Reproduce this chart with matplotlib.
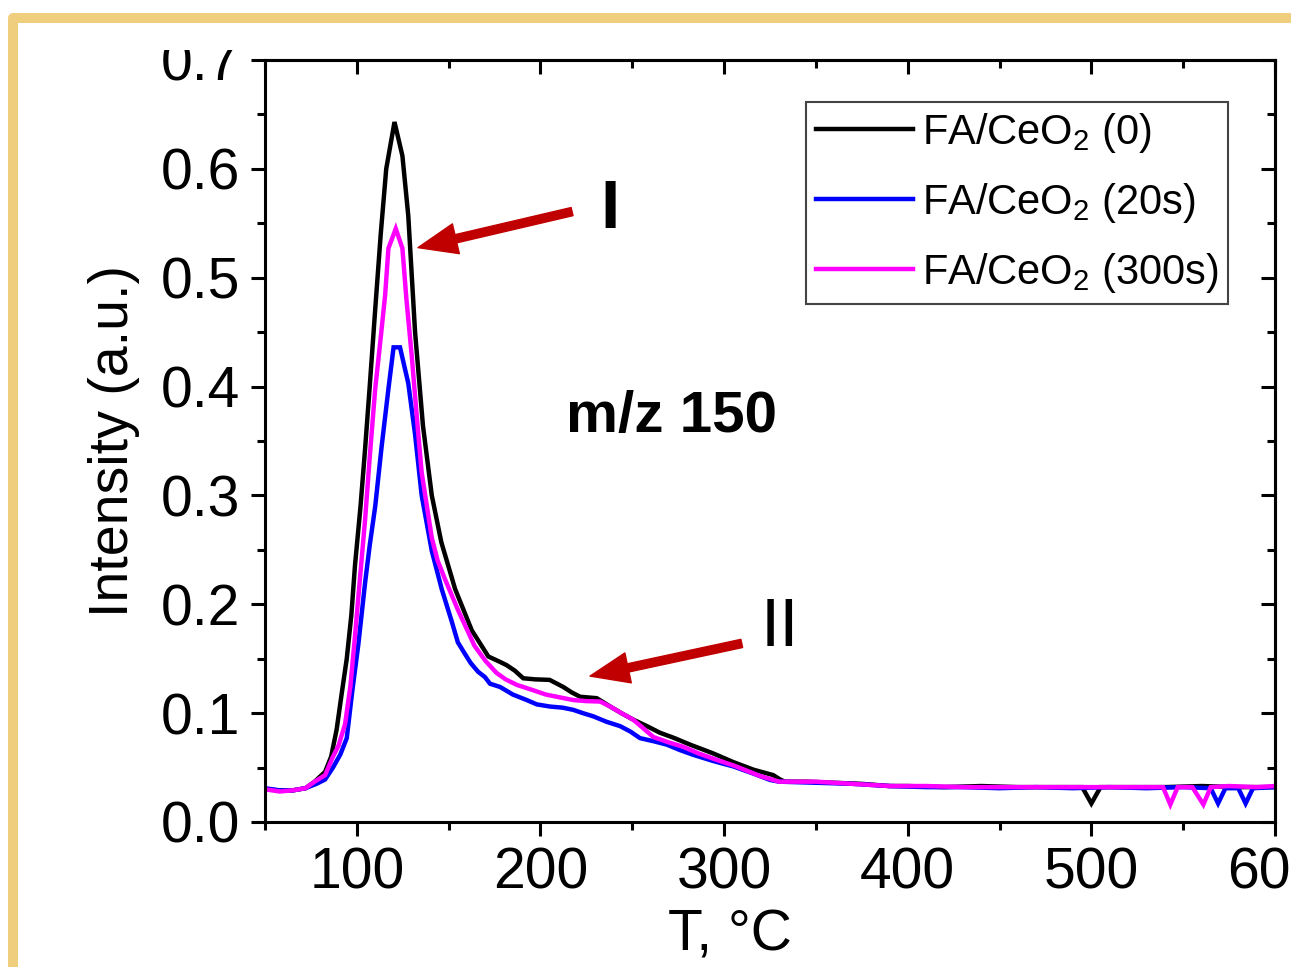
import matplotlib
matplotlib.use('Agg')

import matplotlib.pyplot as plt
from matplotlib.ticker import MultipleLocator
from matplotlib.lines import Line2D
from matplotlib.patches import Rectangle

plt.rcParams['font.family'] = ['Liberation Sans', 'DejaVu Sans']
plt.rcParams['mathtext.fontset'] = 'custom'
plt.rcParams['mathtext.rm'] = 'Liberation Sans'
plt.rcParams['mathtext.it'] = 'Liberation Sans:italic'
plt.rcParams['mathtext.bf'] = 'Liberation Sans:bold'

# FA/CeO2 (0)
t_0 = [50, 58, 65, 72, 77, 82.7, 86, 89, 91.5, 94.5, 97, 99, 102, 104.5, 107, 110,
       113, 116, 120.5, 124.8, 128, 131.7, 136, 140.8, 146, 153.5, 162.6, 171.6,
       178, 181.6, 186, 190.6, 197, 205, 212.4, 217, 221.6, 230.6, 238, 244, 250.5,
       258, 265, 273, 281.5, 294, 305, 316, 326.8, 330.5, 333, 345, 360, 375, 390,
       400, 420, 440, 460, 480, 495, 500, 505, 520, 540, 560, 580, 600]
i_0 = [0.030, 0.029, 0.029, 0.031, 0.037, 0.046, 0.060, 0.085, 0.115, 0.150, 0.190,
       0.236, 0.290, 0.343, 0.400, 0.471, 0.540, 0.600, 0.643, 0.612, 0.557, 0.450,
       0.364, 0.300, 0.257, 0.214, 0.176, 0.152, 0.147, 0.144, 0.139, 0.132, 0.131,
       0.1305, 0.124, 0.119, 0.115, 0.1137, 0.106, 0.100, 0.094, 0.088, 0.082, 0.077,
       0.071, 0.063, 0.055, 0.048, 0.043, 0.039, 0.037, 0.037, 0.036, 0.035, 0.033,
       0.033, 0.032, 0.033, 0.032, 0.032, 0.032, 0.017, 0.032, 0.032, 0.032, 0.033,
       0.032, 0.032]

# FA/CeO2 (20s)
t_20 = [50, 58, 65, 72, 78, 82.7, 87, 91, 94.5, 97.5, 100.8, 104.5, 107, 110, 113.5,
        117.2, 120, 123.5, 128, 131.7, 135.3, 140.8, 146.2, 151.7, 155, 159, 162,
        166, 169.8, 172.5, 178, 185, 192.5, 198, 205.2, 212, 217.8, 223, 228.8, 236,
        243.4, 249, 254.2, 262, 268.8, 276, 283.3, 294, 305, 315, 325, 330, 350, 370,
        390, 410, 430, 450, 470, 490, 510, 530, 550, 565, 569, 573, 580, 584, 588, 600]
i_20 = [0.031, 0.029, 0.029, 0.031, 0.035, 0.039, 0.050, 0.062, 0.077, 0.120, 0.163,
        0.220, 0.254, 0.290, 0.345, 0.398, 0.436, 0.436, 0.403, 0.356, 0.300, 0.249,
        0.214, 0.184, 0.165, 0.154, 0.146, 0.138, 0.133, 0.127, 0.124, 0.117, 0.112,
        0.108, 0.106, 0.105, 0.103, 0.100, 0.097, 0.092, 0.088, 0.083, 0.077, 0.074,
        0.071, 0.066, 0.0616, 0.056, 0.051, 0.045, 0.0386, 0.037, 0.036, 0.035, 0.033,
        0.032, 0.032, 0.031, 0.032, 0.031, 0.032, 0.031, 0.032, 0.031, 0.017, 0.031,
        0.031, 0.017, 0.031, 0.032]

# FA/CeO2 (300s)
t_300 = [50, 58, 65, 72, 77, 82.7, 87, 90, 93.6, 96.5, 99, 101.5, 104.5, 107, 110,
         113, 115.4, 117.2, 121.2, 124.8, 127, 129.9, 132.5, 135.3, 140.8, 144, 148,
         155, 164, 170, 176, 181, 187, 196, 203, 208.9, 217.8, 225, 232.5, 238, 244,
         250.5, 256, 261.5, 270, 277.8, 286, 296, 305, 314, 320, 326.8, 330, 350, 370,
         390, 410, 430, 450, 470, 490, 510, 530, 539, 543, 547, 555, 561, 565, 575,
         590, 600]
i_300 = [0.030, 0.028, 0.029, 0.031, 0.037, 0.043, 0.060, 0.070, 0.090, 0.125, 0.171,
         0.220, 0.278, 0.335, 0.398, 0.445, 0.484, 0.527, 0.545, 0.527, 0.480, 0.428,
         0.375, 0.321, 0.261, 0.240, 0.223, 0.195, 0.162, 0.148, 0.137, 0.131, 0.126,
         0.121, 0.117, 0.115, 0.112, 0.111, 0.1106, 0.106, 0.100, 0.094, 0.086, 0.078,
         0.073, 0.069, 0.063, 0.057, 0.052, 0.046, 0.042, 0.0386, 0.037, 0.037, 0.035,
         0.033, 0.033, 0.032, 0.032, 0.032, 0.032, 0.032, 0.032, 0.032, 0.016, 0.032,
         0.032, 0.016, 0.032, 0.033, 0.032, 0.033]

labels = ['FA/CeO$_2$ (0)', 'FA/CeO$_2$ (20s)', 'FA/CeO$_2$ (300s)']
colors = ['black', '#0000FF', '#FF00FF']

x_ticks = [100, 200, 300, 400, 500, 600]
y_ticks = [0.0, 0.1, 0.2, 0.3, 0.4, 0.5, 0.6, 0.7]

# annotation positions (data coords)
arrow_I = ((217.2, 0.5607), (133.3, 0.5276))
arrow_II = ((309.6, 0.164), (227.0, 0.134))

fig = plt.figure(figsize=(12.91, 9.67), dpi=100)
fig.patch.set_facecolor('white')
ax = fig.add_axes([0.2053, 0.150, 0.7823, 0.788])

for t, v, lab, col in zip([t_0, t_20, t_300], [i_0, i_20, i_300], labels, colors):
    ax.plot(t, v, color=col, linewidth=3.2, label=lab, solid_joinstyle='miter')

ax.set_xlim(50, 600)
ax.set_ylim(0, 0.7)
ax.set_xticks(x_ticks)
ax.set_yticks(y_ticks)
ax.set_yticklabels([f'{v:.1f}' for v in y_ticks])
ax.xaxis.set_minor_locator(MultipleLocator(50))
ax.yaxis.set_minor_locator(MultipleLocator(0.05))

for s in ax.spines.values():
    s.set_linewidth(2.2)

ax.tick_params(which='both', direction='out', width=2.2, labelsize=41,
               top=False, right=False)
ax.tick_params(which='major', length=10, pad=8)
ax.tick_params(which='minor', length=5.5)

# ticks inward on top and right
sec_x = ax.secondary_xaxis('top')
sec_x.set_xticks(x_ticks)
sec_x.xaxis.set_minor_locator(MultipleLocator(50))
sec_x.tick_params(which='both', direction='in', width=2.2, labeltop=False)
sec_x.tick_params(which='major', length=10)
sec_x.tick_params(which='minor', length=5.5)
sec_x.spines['top'].set_linewidth(2.2)

sec_y = ax.secondary_yaxis('right')
sec_y.set_yticks(y_ticks)
sec_y.yaxis.set_minor_locator(MultipleLocator(0.05))
sec_y.tick_params(which='both', direction='in', width=2.2, labelright=False)
sec_y.tick_params(which='major', length=10)
sec_y.tick_params(which='minor', length=5.5)
sec_y.spines['right'].set_linewidth(2.2)

ax.set_xlabel('T, °C', fontsize=41)
ax.set_ylabel('Intensity (a.u.)', fontsize=40)
ax.xaxis.set_label_coords(0.46, -0.113)
ax.yaxis.set_label_coords(-0.124, 0.5)

leg = ax.legend(loc='upper right', bbox_to_anchor=(0.9535, 0.945), borderaxespad=0,
                fontsize=30, fancybox=False, framealpha=1, edgecolor='#444444',
                handlelength=2.35, handletextpad=0.2, labelspacing=0.62, borderpad=0.22)
leg.get_frame().set_linewidth(1.5)

arrow_props = dict(facecolor='#C00000', edgecolor='#C00000', width=6,
                   headwidth=22, headlength=28, shrink=0)
ax.annotate('', xy=arrow_I[1], xytext=arrow_I[0], arrowprops=arrow_props)
ax.annotate('', xy=arrow_II[1], xytext=arrow_II[0], arrowprops=arrow_props)

ax.text(237.9, 0.5625, 'I', fontsize=50, fontweight='bold', ha='center', va='center')
ax.text(330.5, 0.178, 'II', fontsize=50, ha='center', va='center')
ax.text(271.1, 0.372, 'm/z 150', fontsize=42, fontweight='bold', ha='center', va='center')

# the pasted picture is cut off just above the 0.7 label
fig.add_artist(Rectangle((0.012, 1 - 50 / 967), 1.0, 27 / 967,
                         transform=fig.transFigure, facecolor='white',
                         edgecolor='none', zorder=5))

# golden frame round the picture
fig.add_artist(Line2D([12.5 / 1291, 12.5 / 1291, 1.05], [-0.05, 1 - 18 / 967, 1 - 18 / 967],
                      transform=fig.transFigure, color='#EFCE7E', linewidth=7.2,
                      solid_joinstyle='round', zorder=6))

fig.savefig('out.png', dpi=100, facecolor='white')
plt.close(fig)
